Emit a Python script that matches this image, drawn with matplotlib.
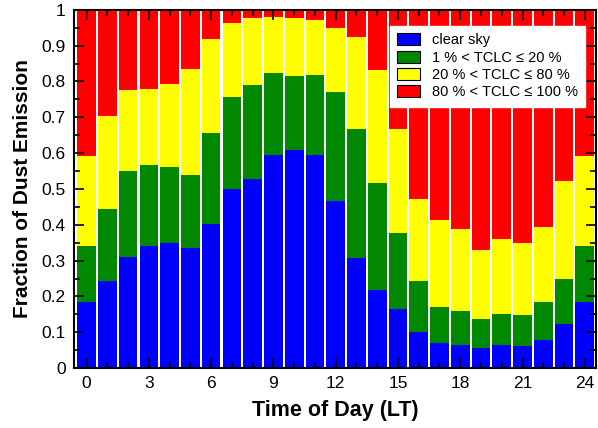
import numpy as np
import matplotlib.pyplot as plt
from matplotlib.ticker import MultipleLocator, FuncFormatter

plt.rcParams['font.family'] = ['Liberation Sans', 'DejaVu Sans']

hours = np.arange(0, 25)

# cumulative tops
clear_top = [0.184, 0.242, 0.309, 0.342, 0.350, 0.334, 0.401, 0.501, 0.527, 0.596,
             0.608, 0.596, 0.466, 0.306, 0.219, 0.166, 0.102, 0.071, 0.065, 0.057,
             0.065, 0.062, 0.079, 0.124, 0.184]
low_top = [0.342, 0.443, 0.549, 0.567, 0.561, 0.539, 0.655, 0.757, 0.789, 0.823,
           0.815, 0.817, 0.770, 0.666, 0.518, 0.378, 0.244, 0.171, 0.158, 0.138,
           0.152, 0.149, 0.185, 0.250, 0.342]
mid_top = [0.592, 0.704, 0.776, 0.779, 0.793, 0.835, 0.919, 0.964, 0.977, 0.980,
           0.977, 0.972, 0.949, 0.924, 0.831, 0.666, 0.473, 0.412, 0.387, 0.331,
           0.359, 0.348, 0.395, 0.521, 0.591]

clear = np.array(clear_top)
low = np.array(low_top) - clear
mid = np.array(mid_top) - np.array(low_top)
high = 1.0 - np.array(mid_top)

labels = ['clear sky', '1 % < TCLC ≤ 20 %', '20 % < TCLC ≤ 80 %', '80 % < TCLC ≤ 100 %']
colors = ['#0000ff', '#008800', '#ffff00', '#ff0000']

fig = plt.figure(figsize=(5.98, 4.28), dpi=100)
ax = fig.add_axes([0.124, 0.140, 0.873, 0.837])

bottom = np.zeros(len(hours))
for vals, lab, col in zip([clear, low, mid, high], labels, colors):
    ax.bar(hours, vals, width=0.9, bottom=bottom, color=col, linewidth=0, label=lab)
    bottom += vals

ax.set_xlim(-0.6, 24.55)
ax.set_ylim(0, 1)
ax.xaxis.set_major_locator(MultipleLocator(3))
ax.xaxis.set_minor_locator(MultipleLocator(1))
ax.yaxis.set_major_locator(MultipleLocator(0.1))
ax.yaxis.set_minor_locator(MultipleLocator(0.05))
ax.yaxis.set_major_formatter(FuncFormatter(lambda v, p: f'{v:.1f}'.rstrip('0').rstrip('.') if v else '0'))
ax.tick_params(which='both', direction='in', top=True, right=True, labelsize=12.5, width=1.2)
ax.tick_params(which='major', length=7, pad=6)
ax.tick_params(which='minor', length=4)
for s in ax.spines.values():
    s.set_linewidth(1.5)

ax.set_xlabel('Time of Day (LT)', fontsize=15.5, fontweight='bold', labelpad=6)
ax.set_ylabel('Fraction of Dust Emission', fontsize=15, fontweight='bold', labelpad=7)

leg = ax.legend(loc='upper right', bbox_to_anchor=(0.993, 0.975), fontsize=10.5,
                frameon=True, fancybox=False, framealpha=1, edgecolor='white',
                handlelength=1.6, handleheight=0.9, borderpad=0.5, labelspacing=0.22)
for h in leg.legend_handles:
    h.set_edgecolor('black')
    h.set_linewidth(0.8)

fig.savefig('out.png', dpi=100)
